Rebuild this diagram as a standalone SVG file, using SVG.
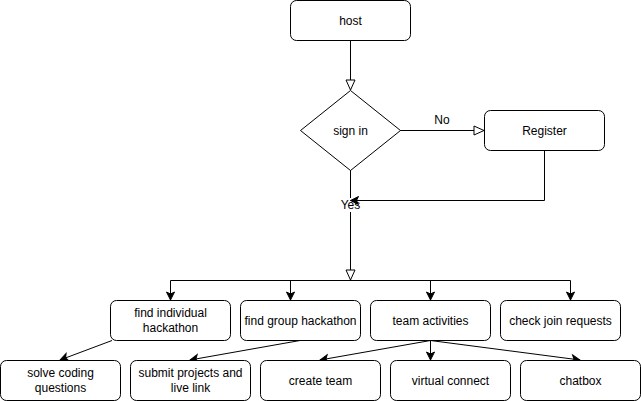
<svg xmlns="http://www.w3.org/2000/svg" width="641" height="401" viewBox="0 0 641 401">
<style>
.n{fill:#fff;stroke:#000;stroke-width:1}
.t{font-family:"Liberation Sans",Arial,sans-serif;font-size:12px;fill:#000;text-anchor:middle;dominant-baseline:central}
.e{fill:none;stroke:#000;stroke-width:1}
</style>
<defs>
<marker id="open" markerUnits="userSpaceOnUse" markerWidth="12" markerHeight="11" refX="10" refY="4.5" orient="auto" overflow="visible">
<path d="M0,0 L10,4.5 L0,9 Z" fill="#fff" stroke="#000" stroke-width="1"/>
</marker>
<marker id="cls" markerUnits="userSpaceOnUse" markerWidth="10" markerHeight="9" refX="8" refY="4" orient="auto" overflow="visible">
<path d="M0,0 L8,4 L0,8 L2,4 Z" fill="#000" stroke="#000" stroke-width="1"/>
</marker>
</defs>
<rect width="641" height="401" fill="#fff"/>
<g id="connectors">
<path class="e" d="M350.5,40.5 V90" marker-end="url(#open)"/>
<path class="e" d="M400,130.5 H484" marker-end="url(#open)"/>
<path class="e" d="M350.5,170 V280" marker-end="url(#open)"/>
<path class="e" d="M170.5,280.5 H570.5"/>
<path class="e" d="M170.5,280.5 V300" marker-end="url(#cls)"/>
<path class="e" d="M290.5,280.5 V300" marker-end="url(#cls)"/>
<path class="e" d="M430.5,280.5 V300" marker-end="url(#cls)"/>
<path class="e" d="M570.5,280.5 V300" marker-end="url(#cls)"/>
<path class="e" d="M112,340.5 L60,360" marker-end="url(#cls)"/>
<path class="e" d="M300,340.5 L190,360" marker-end="url(#cls)"/>
<path class="e" d="M430.5,340.5 L320,360" marker-end="url(#cls)"/>
<path class="e" d="M430.5,340.5 V360" marker-end="url(#cls)"/>
<path class="e" d="M430.5,340.5 L580,360" marker-end="url(#cls)"/>
<rect x="341" y="198" width="19" height="14" fill="#fff"/>
<text class="t" x="350.5" y="205">Yes</text>
<text class="t" x="442" y="120">No</text>
<path class="e" d="M544.5,150.5 V200.5 H350.5" marker-end="url(#cls)"/>
</g>
<g id="host"><rect class="n" x="290.5" y="0.5" width="120" height="40" rx="6"/><text class="t" x="350.5" y="20.5">host</text></g>
<g id="signin"><path class="n" d="M350.5,90.5 L400.5,130.5 L350.5,170.5 L300.5,130.5 Z"/><text class="t" x="350.5" y="130.5">sign in</text></g>
<g id="register"><rect class="n" x="484.5" y="110.5" width="120" height="40" rx="6"/><text class="t" x="544.5" y="130.5">Register</text></g>
<g id="findind"><rect class="n" x="110.5" y="300.5" width="120" height="40" rx="6"/><text class="t" x="170.5" y="313">find individual</text><text class="t" x="170.5" y="328">hackathon</text></g>
<g id="findgroup"><rect class="n" x="240.5" y="300.5" width="120" height="40" rx="6"/><text class="t" x="300.5" y="320.5">find group hackathon</text></g>
<g id="team"><rect class="n" x="370.5" y="300.5" width="120" height="40" rx="6"/><text class="t" x="430.5" y="320.5">team activities</text></g>
<g id="check"><rect class="n" x="500.5" y="300.5" width="120" height="40" rx="6"/><text class="t" x="560.5" y="320.5">check join requests</text></g>
<g id="solve"><rect class="n" x="0.5" y="360.5" width="120" height="40" rx="6"/><text class="t" x="60.5" y="373">solve coding</text><text class="t" x="60.5" y="388">questions</text></g>
<g id="submit"><rect class="n" x="130.5" y="360.5" width="120" height="40" rx="6"/><text class="t" x="190.5" y="373">submit projects and</text><text class="t" x="190.5" y="388">live link</text></g>
<g id="create"><rect class="n" x="260.5" y="360.5" width="120" height="40" rx="6"/><text class="t" x="320.5" y="380.5">create team</text></g>
<g id="virtual"><rect class="n" x="390.5" y="360.5" width="120" height="40" rx="6"/><text class="t" x="450.5" y="380.5">virtual connect</text></g>
<g id="chatbox"><rect class="n" x="520.5" y="360.5" width="120" height="40" rx="6"/><text class="t" x="580.5" y="380.5">chatbox</text></g>
</svg>
